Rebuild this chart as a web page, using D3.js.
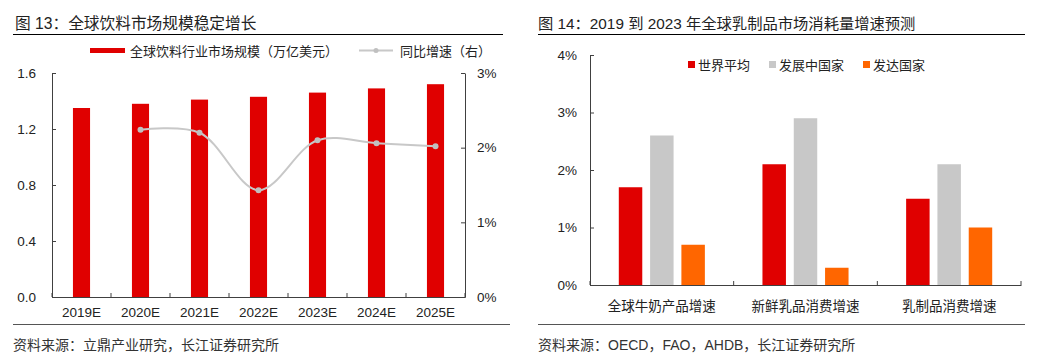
<!DOCTYPE html>
<html><head><meta charset="utf-8">
<script src="https://cdn.jsdelivr.net/npm/d3@7"></script>
<style>
html,body{margin:0;padding:0;background:#fff;}
text{font-family:"Liberation Sans","Noto Sans CJK SC",Arial,sans-serif;}
</style></head>
<body><svg id="c" width="1062" height="358"></svg>
<script>
// ---- Data: chart 13 ----
const years = ["2019E","2020E","2021E","2022E","2023E","2024E","2025E"];
const marketSize = [1.35, 1.38, 1.41, 1.43, 1.46, 1.49, 1.52];
const growthYears = ["2020E","2021E","2022E","2023E","2024E","2025E"];
const growthRate = [2.24, 2.20, 1.43, 2.10, 2.06, 2.02];
const leftTicks = [0, 0.4, 0.8, 1.2, 1.6];
const rightTicks = [0, 1, 2, 3];
// ---- Data: chart 14 ----
const dairyCats = ["全球牛奶产品增速","新鲜乳品消费增速","乳制品消费增速"];
const seriesNames = ["世界平均","发展中国家","发达国家"];
const worldAvg = [1.7, 2.1, 1.5];
const developing = [2.6, 2.9, 2.1];
const developed = [0.7, 0.3, 1.0];
const dairyTicks = [0, 1, 2, 3, 4];

const svg = d3.select("#c");
const axisColor = "#404040", textColor = "#222";

// ================= Chart 13 =================
const g1 = svg.append("g");
g1.append("text").attr("x", 15).attr("y", 29).attr("font-size", 15.7).attr("fill", textColor)
  .text("图 13：全球饮料市场规模稳定增长");
g1.append("line").attr("x1", 13).attr("x2", 503).attr("y1", 34.5).attr("y2", 34.5).attr("stroke", "#000").attr("stroke-width", 1.2);

const x1 = d3.scaleBand().domain(years).range([52, 465]);
const yL = d3.scaleLinear().domain([0, 1.6]).range([297, 73]);
const yR = d3.scaleLinear().domain([0, 3]).range([297, 73]);
const barW1 = x1.bandwidth() * 0.29;

g1.selectAll("rect.bar").data(years).join("rect").attr("class","bar")
  .attr("x", d => x1(d) + (x1.bandwidth() - barW1) / 2)
  .attr("width", barW1)
  .attr("y", (d, i) => yL(marketSize[i]))
  .attr("height", (d, i) => yL(0) - yL(marketSize[i]))
  .attr("fill", "#e00000");

const line = d3.line().curve(d3.curveCatmullRom.alpha(0.5))
  .x(d => x1(d[0]) + x1.bandwidth() / 2).y(d => yR(d[1]));
const gdata = growthYears.map((d, i) => [d, growthRate[i]]);
g1.append("path").datum(gdata).attr("d", line).attr("fill", "none").attr("stroke", "#c8c8c8").attr("stroke-width", 2);
g1.selectAll("circle.pt").data(gdata).join("circle").attr("class","pt")
  .attr("cx", d => x1(d[0]) + x1.bandwidth() / 2).attr("cy", d => yR(d[1])).attr("r", 3).attr("fill", "#c0c0c0");

const axL = g1.append("g").attr("transform", "translate(52,0)")
  .call(d3.axisLeft(yL).tickValues(leftTicks).tickFormat(d3.format(".1f")).tickSizeInner(-4).tickSizeOuter(0).tickPadding(16));
const axR = g1.append("g").attr("transform", "translate(465,0)")
  .call(d3.axisRight(yR).tickValues(rightTicks).tickFormat(d => d + "%").tickSizeInner(-4).tickSizeOuter(0).tickPadding(12));
const axB = g1.append("g").attr("transform", "translate(0,297)")
  .call(d3.axisBottom(x1).tickSizeInner(0).tickSizeOuter(0).tickPadding(10));
const bounds1 = years.map(d => x1(d)).concat([x1.range()[1]]);
g1.selectAll("line.bt").data(bounds1).join("line").attr("class","bt")
  .attr("x1", d => d).attr("x2", d => d).attr("y1", 297).attr("y2", 293).attr("stroke", axisColor);
[axL, axR, axB].forEach(a => {
  a.selectAll("path,line").attr("stroke", axisColor);
  a.selectAll("text").attr("font-size", 13.5).attr("fill", textColor).attr("font-family", null);
});

// legend 13
g1.append("rect").attr("x", 90).attr("y", 48).attr("width", 35).attr("height", 5).attr("fill", "#e00000");
g1.append("text").attr("x", 130).attr("y", 55.5).attr("font-size", 13).attr("fill", textColor).text("全球饮料行业市场规模（万亿美元）");
g1.append("line").attr("x1", 359).attr("x2", 393).attr("y1", 50.5).attr("y2", 50.5).attr("stroke", "#c8c8c8").attr("stroke-width", 2);
g1.append("circle").attr("cx", 376).attr("cy", 50.5).attr("r", 2.5).attr("fill", "#c0c0c0");
g1.append("text").attr("x", 400).attr("y", 55.5).attr("font-size", 13).attr("fill", textColor).text("同比增速（右）");

g1.append("line").attr("x1", 13).attr("x2", 510).attr("y1", 324.5).attr("y2", 324.5).attr("stroke", "#555").attr("stroke-width", 1);
g1.append("text").attr("x", 13).attr("y", 350).attr("font-size", 14).attr("fill", "#333").text("资料来源：立鼎产业研究，长江证券研究所");

// ================= Chart 14 =================
const g2 = svg.append("g");
g2.append("text").attr("x", 538).attr("y", 29).attr("font-size", 15.3).attr("fill", textColor)
  .text("图 14：2019 到 2023 年全球乳制品市场消耗量增速预测");
g2.append("line").attr("x1", 538).attr("x2", 1025).attr("y1", 34.5).attr("y2", 34.5).attr("stroke", "#000").attr("stroke-width", 1.2);

const x2 = d3.scaleBand().domain(dairyCats).range([590, 1021]);
const xs = d3.scaleBand().domain(seriesNames).range([0, x2.bandwidth()]).paddingInner(0.25).paddingOuter(0.92);
const y2 = d3.scaleLinear().domain([0, 4]).range([285, 55]);
const colors = ["#e00000", "#c8c8c8", "#ff6600"];
const allSeries = [worldAvg, developing, developed];

seriesNames.forEach((s, si) => {
  g2.selectAll("rect.s" + si).data(dairyCats).join("rect").attr("class", "s" + si)
    .attr("x", d => x2(d) + xs(s))
    .attr("width", xs.bandwidth())
    .attr("y", (d, i) => y2(allSeries[si][i]))
    .attr("height", (d, i) => y2(0) - y2(allSeries[si][i]))
    .attr("fill", colors[si]);
});

const ay2 = g2.append("g").attr("transform", "translate(590,0)")
  .call(d3.axisLeft(y2).tickValues(dairyTicks).tickFormat(d => d + "%").tickSizeInner(-4).tickSizeOuter(0).tickPadding(13));
const ax2 = g2.append("g").attr("transform", "translate(0,285)")
  .call(d3.axisBottom(x2).tickSizeInner(0).tickSizeOuter(0).tickPadding(16));
const bounds2 = dairyCats.map(d => x2(d)).concat([x2.range()[1]]);
g2.selectAll("line.bt2").data(bounds2).join("line").attr("class","bt2")
  .attr("x1", d => d).attr("x2", d => d).attr("y1", 285).attr("y2", 281).attr("stroke", axisColor);
ay2.selectAll("path,line").attr("stroke", axisColor);
ax2.selectAll("path,line").attr("stroke", axisColor);
ay2.selectAll("text").attr("font-size", 13.5).attr("fill", textColor).attr("font-family", null);
ax2.selectAll("text").attr("font-size", 13.5).attr("fill", textColor).attr("font-family", null);

// legend 14
const legX = [688, 769, 863];
seriesNames.forEach((s, i) => {
  g2.append("rect").attr("x", legX[i]).attr("y", 61).attr("width", 7).attr("height", 7).attr("fill", colors[i]);
  g2.append("text").attr("x", legX[i] + 10).attr("y", 69.5).attr("font-size", 13).attr("fill", textColor).text(s);
});

g2.append("line").attr("x1", 538).attr("x2", 1025).attr("y1", 324.5).attr("y2", 324.5).attr("stroke", "#555").attr("stroke-width", 1);
g2.append("text").attr("x", 538).attr("y", 350).attr("font-size", 14).attr("fill", "#333").text("资料来源：OECD，FAO，AHDB，长江证券研究所");
</script></body></html>
